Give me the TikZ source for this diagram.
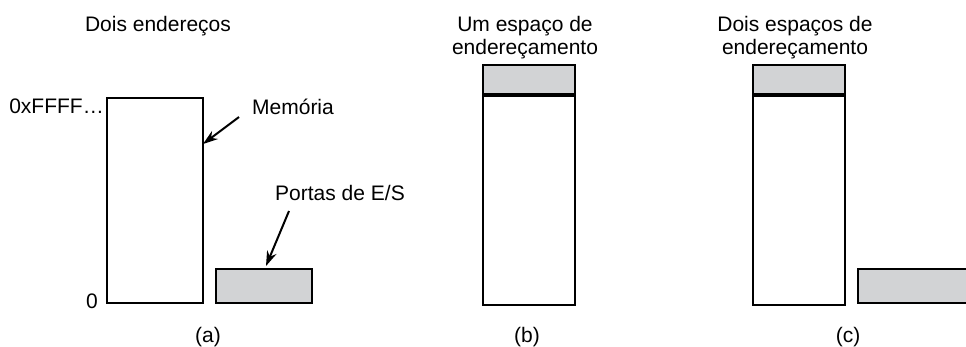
\documentclass[tikz,border=0pt]{standalone}
\usepackage{fontspec}
\setmainfont{Liberation Sans}
\usepackage{xcolor}
\usetikzlibrary{arrows.meta,positioning}
\definecolor{cinza}{RGB}{210,211,213}

\begin{document}
\begin{tikzpicture}[x=1pt, y=-1pt,
			 caixa/.style={draw, line width=2pt, inner sep=0pt, anchor=north west},
			 portas/.style={caixa, fill=cinza},
			 rotulo/.style={anchor=base, inner sep=0pt, font=\fontsize{21}{23}\selectfont},
			 seta/.style={-{Stealth[length=15pt,width=10pt]}, line width=2pt}
  		]
	\useasboundingbox (0,0) rectangle (966,346);
	\clip (0,0) rectangle (966,346);

	%Caso (a): dois enderecos

		\node[rotulo] (ta) at (158,31) {Dois endereços};
		\node[caixa, minimum width=96pt, minimum height=205pt] (mem) at (106,97) {};
		\node[portas, minimum width=96pt, minimum height=34pt] (esa) at (215,268) {};
		\node[rotulo, anchor=base east] (topo) at (104,113) {0xFFFF…};
		\node[rotulo] (zero) at (92,308) {0};
		\node[rotulo] (memlabel) at (293,114) {Memória};
		\node[rotulo] (eslabel) at (340,200) {Portas de E/S};
		\node[rotulo] (la) at (208,342) {(a)};
	%Setas
		\coordinate (memtail) at (239,117);
		\coordinate (memtip) at (203,144);
		\coordinate (estail) at (289,211);
		\coordinate (estip) at (266,266);
		\draw[seta] (memtail) -- (memtip);
		\draw[seta] (estail) -- (estip);

	%Caso (b): um espaco de enderecamento

		\node[rotulo] (tb1) at (525,31) {Um espaço de};
		\node[rotulo] (tb2) at (525,54) {endereçamento};
		\node[portas, minimum width=92pt, minimum height=29pt] (esb) at (482,64) {};
		\node[caixa, minimum width=92pt, minimum height=209pt, anchor=north] (memb) at (esb.south) {};
		\node[rotulo] (lb) at (527,342) {(b)};

	%Caso (c): dois espacos de enderecamento

		\node[rotulo] (tc1) at (795,31) {Dois espaços de};
		\node[rotulo] (tc2) at (795,54) {endereçamento};
		\node[portas, minimum width=92pt, minimum height=29pt] (esc) at (752,64) {};
		\node[caixa, minimum width=92pt, minimum height=209pt, anchor=north] (memc) at (esc.south) {};
		\node[portas, minimum width=120pt, minimum height=34pt] (esc2) at (857,268) {};
		\node[rotulo] (lc) at (848,342) {(c)};

	\end{tikzpicture}
\end{document}
